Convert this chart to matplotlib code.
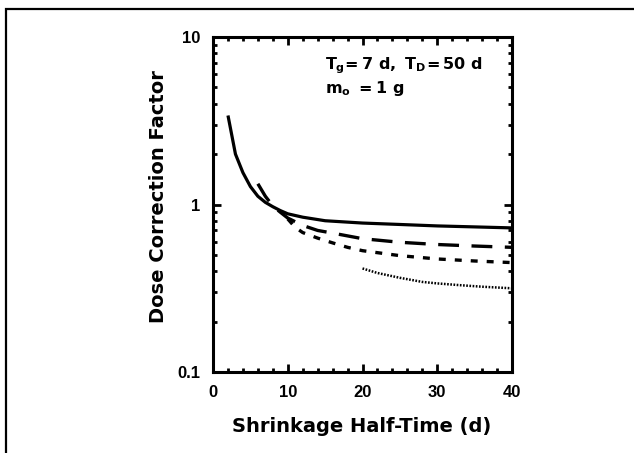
import matplotlib
matplotlib.use("Agg")
import matplotlib.pyplot as plt
from matplotlib.patches import Rectangle
from matplotlib.ticker import LogLocator, MultipleLocator, FixedLocator, NullFormatter

plt.rcParams['font.family'] = ['Liberation Sans', 'DejaVu Sans']
plt.rcParams['font.weight'] = 'bold'
plt.rcParams['mathtext.fontset'] = 'custom'
plt.rcParams['mathtext.rm'] = 'DejaVu Sans:bold'
plt.rcParams['mathtext.it'] = 'DejaVu Sans:bold'
plt.rcParams['mathtext.bf'] = 'DejaVu Sans:bold'
plt.rcParams['lines.scale_dashes'] = False

# Data
solid_x = [2, 3, 4, 5, 6, 7, 8, 9, 10, 12, 15, 20, 25, 30, 35, 40]
solid_y = [3.4, 2.0, 1.55, 1.28, 1.12, 1.03, 0.97, 0.92, 0.88, 0.84, 0.80, 0.775, 0.76, 0.745, 0.735, 0.725]

longdash_x = [6, 7, 8, 9, 10, 12, 14, 16, 20, 25, 30, 35, 40]
longdash_y = [1.33, 1.12, 0.98, 0.90, 0.83, 0.75, 0.70, 0.675, 0.625, 0.595, 0.577, 0.565, 0.555]

shortdash_x = [10, 11, 12, 14, 16, 18, 20, 25, 30, 35, 40]
shortdash_y = [0.82, 0.73, 0.68, 0.63, 0.59, 0.555, 0.53, 0.495, 0.473, 0.46, 0.45]

dotted_x = [20, 22, 25, 28, 30, 33, 36, 40]
dotted_y = [0.415, 0.39, 0.365, 0.345, 0.338, 0.33, 0.323, 0.316]

x_ticks = [0, 10, 20, 30, 40]
y_ticks = [0.1, 1, 10]
y_ticklabels = ['0.1', '1', '10']

fig = plt.figure(figsize=(6.34, 4.53), dpi=100)
ax = fig.add_axes([0.336, 0.1788, 0.4716, 0.7395])

ax.plot(solid_x, solid_y, color='black', lw=2.3, solid_capstyle='butt')
ax.plot(longdash_x, longdash_y, color='black', lw=2.4, linestyle=(0, (15, 9)))
ax.plot(shortdash_x, shortdash_y, color='black', lw=2.4, linestyle=(0, (5, 6.5)))
ax.plot(dotted_x, dotted_y, color='black', lw=1.8, linestyle=(0, (1.2, 1.1)))

ax.set_yscale('log')
ax.set_xlim(0, 40)
ax.set_ylim(0.1, 10)
ax.xaxis.set_major_locator(FixedLocator(x_ticks))
ax.xaxis.set_minor_locator(MultipleLocator(2))
ax.yaxis.set_major_locator(FixedLocator(y_ticks))
ax.set_yticklabels(y_ticklabels)
ax.yaxis.set_minor_locator(LogLocator(base=10, subs=[2, 3, 4, 5, 6, 7, 8, 9]))
ax.yaxis.set_minor_formatter(NullFormatter())

ax.tick_params(which='both', direction='in', top=True, right=True, width=2, labelsize=12, pad=9)
ax.tick_params(which='major', length=6)
ax.tick_params(which='minor', length=3)
for s in ax.spines.values():
    s.set_linewidth(2.2)

ax.set_xlabel('Shrinkage Half-Time (d)', fontsize=14, fontweight='bold', family='DejaVu Sans')
ax.set_ylabel('Dose Correction Factor', fontsize=14, fontweight='bold', family='DejaVu Sans')
ax.xaxis.set_label_coords(0.497, -0.135)
ax.yaxis.set_label_coords(-0.1505, 0.525)

ax.text(0.3746, 0.9036, r'$T_g\!=7\ d,\ T_D\!=50\ d$', transform=ax.transAxes,
        fontsize=11.5, va='baseline', ha='left')
ax.text(0.3746, 0.8316, r'$m_o\ =1\ g$', transform=ax.transAxes,
        fontsize=11.5, va='baseline', ha='left')

# outer frame (partially visible)
fig.add_artist(Rectangle((6 / 634, -0.2), 1.2, (453 - 9) / 453 + 0.2,
                         transform=fig.transFigure, fill=False, lw=1.6,
                         edgecolor='black', clip_on=False))

fig.savefig('out.png', dpi=100)
